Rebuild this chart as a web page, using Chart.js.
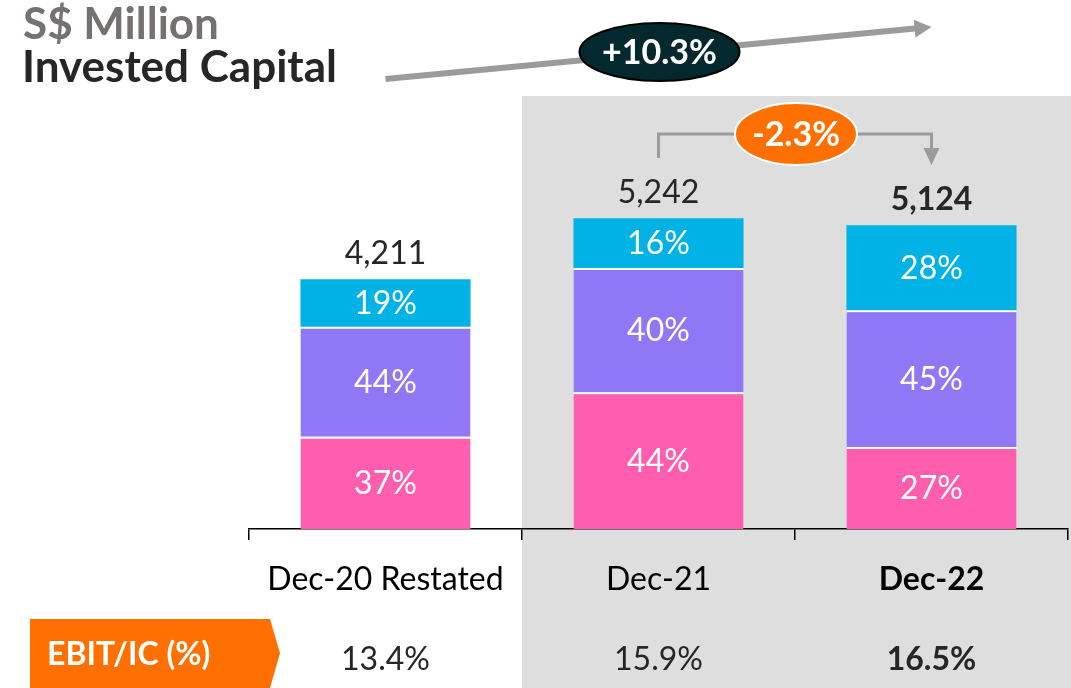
<!DOCTYPE html>
<html lang="en">
<head>
    <meta charset="UTF-8">
    <title>Invested Capital</title>
    <script src="https://cdn.jsdelivr.net/npm/chart.js@4.4.0/dist/chart.umd.min.js"></script>
    <style>
        html, body { margin: 0; padding: 0; background: #fff; }
        .chart-container { position: relative; width: 1071px; height: 688px; }
    </style>
</head>
<body>
    <div class="chart-container">
        <canvas id="icChart"></canvas>
    </div>
    <script>
        // chart data (S$ million)
        const categories = ['Dec-20 Restated', 'Dec-21', 'Dec-22'];
        const totals = [4211, 5242, 5124];
        const pinkVals = [1558, 2306, 1383];
        const purpleVals = [1853, 2097, 2306];
        const cyanVals = [800, 839, 1435];
        const pinkPct = ['37%', '44%', '27%'];
        const purplePct = ['44%', '40%', '45%'];
        const cyanPct = ['19%', '16%', '28%'];
        const ebitIc = ['13.4%', '15.9%', '16.5%'];
        const icGrowth = '+10.3%';
        const yoyChange = '-2.3%';

        const FONT = 'Lato, "Open Sans", sans-serif';
        const pctLabels = [pinkPct, purplePct, cyanPct];

        function arrowHead(ctx, x, y, angle, len, half, color) {
            ctx.save();
            ctx.translate(x, y);
            ctx.rotate(angle);
            ctx.fillStyle = color;
            ctx.beginPath();
            ctx.moveTo(0, 0);
            ctx.lineTo(-len, -half);
            ctx.lineTo(-len, half);
            ctx.closePath();
            ctx.fill();
            ctx.restore();
        }

        function ellipseLabel(ctx, cx, cy, rx, ry, fill, stroke, text) {
            ctx.save();
            ctx.beginPath();
            ctx.ellipse(cx, cy, rx, ry, 0, 0, Math.PI * 2);
            ctx.fillStyle = fill;
            ctx.fill();
            ctx.lineWidth = 2;
            ctx.strokeStyle = stroke;
            ctx.stroke();
            ctx.fillStyle = '#fff';
            ctx.font = 'bold 34px ' + FONT;
            ctx.textAlign = 'center';
            ctx.textBaseline = 'middle';
            ctx.fillText(text, cx, cy + 1);
            ctx.restore();
        }

        const decorPlugin = {
            id: 'decor',
            beforeDraw(chart) {
                const ctx = chart.ctx;
                const x = chart.scales.x;
                const left = (x.getPixelForValue(0) + x.getPixelForValue(1)) / 2;
                ctx.save();
                ctx.fillStyle = '#dedede';
                ctx.fillRect(left, 96, chart.width - left, chart.height - 96);
                ctx.restore();
            },
            afterDatasetsDraw(chart) {
                const ctx = chart.ctx;
                ctx.save();
                ctx.textAlign = 'center';
                ctx.textBaseline = 'middle';
                // segment percentages
                ctx.font = '32px ' + FONT;
                ctx.fillStyle = '#fff';
                chart.data.datasets.forEach((ds, di) => {
                    chart.getDatasetMeta(di).data.forEach((bar, i) => {
                        ctx.fillText(pctLabels[di][i], bar.x, (bar.y + bar.base) / 2 + 1);
                    });
                });
                // totals above bars
                const top = chart.getDatasetMeta(2).data;
                top.forEach((bar, i) => {
                    ctx.font = (i === 2 ? 'bold ' : '') + '32px ' + FONT;
                    ctx.fillStyle = '#262626';
                    ctx.fillText(totals[i].toLocaleString('en-US'), bar.x, bar.y - 26);
                });
                ctx.restore();
            },
            afterDraw(chart) {
                const ctx = chart.ctx;
                const x = chart.scales.x;
                const c0 = x.getPixelForValue(0), c1 = x.getPixelForValue(1), c2 = x.getPixelForValue(2);
                ctx.save();

                // title
                ctx.textAlign = 'left';
                ctx.textBaseline = 'alphabetic';
                ctx.font = 'bold 44px ' + FONT;
                ctx.fillStyle = '#767171';
                ctx.fillText('S$ Million', 23, 39);
                ctx.fillStyle = '#262626';
                ctx.fillText('Invested Capital', 22, 82);

                // long growth arrow Dec-20 -> Dec-22
                const grey = '#9b9b9b';
                const x1 = c0, y1 = 79, x2 = c2, y2 = 27;
                const ang = Math.atan2(y2 - y1, x2 - x1);
                ctx.strokeStyle = grey;
                ctx.lineWidth = 6;
                ctx.beginPath();
                ctx.moveTo(x1, y1);
                ctx.lineTo(x2 - 14 * Math.cos(ang), y2 - 14 * Math.sin(ang));
                ctx.stroke();
                arrowHead(ctx, x2, y2, ang, 17, 9, grey);
                ellipseLabel(ctx, (c0 + c2) / 2 + 1, 52, 80, 29, '#03282d', '#000', icGrowth);

                // bracket Dec-21 -> Dec-22
                ctx.strokeStyle = grey;
                ctx.lineWidth = 3;
                ctx.beginPath();
                ctx.moveTo(c1, 158);
                ctx.lineTo(c1, 134);
                ctx.lineTo(c2, 134);
                ctx.lineTo(c2, 150);
                ctx.stroke();
                arrowHead(ctx, c2, 165, Math.PI / 2, 17, 8, grey);
                ellipseLabel(ctx, (c1 + c2) / 2 + 1, 134, 61, 31, '#ff7000', '#fff', yoyChange);

                // EBIT/IC row
                ctx.fillStyle = '#ff7000';
                ctx.beginPath();
                ctx.moveTo(30, 619);
                ctx.lineTo(270, 619);
                ctx.lineTo(280, 653);
                ctx.lineTo(270, 688);
                ctx.lineTo(30, 688);
                ctx.closePath();
                ctx.fill();
                ctx.fillStyle = '#fff';
                ctx.font = 'bold 32px ' + FONT;
                ctx.textAlign = 'left';
                ctx.textBaseline = 'middle';
                ctx.fillText('EBIT/IC (%)', 47, 655);

                ctx.textAlign = 'center';
                ebitIc.forEach((v, i) => {
                    ctx.font = (i === 2 ? 'bold ' : '') + '32px ' + FONT;
                    ctx.fillStyle = '#262626';
                    ctx.fillText(v, x.getPixelForValue(i), 660);
                });
                ctx.restore();
            }
        };

        const barBorder = { top: 2, bottom: 0, left: 0, right: 0 };

        new Chart(document.getElementById('icChart'), {
            type: 'bar',
            data: {
                labels: categories,
                datasets: [
                    { label: 'Pink', data: pinkVals, backgroundColor: '#ff5eae', borderColor: '#fff', borderWidth: barBorder, borderSkipped: false },
                    { label: 'Purple', data: purpleVals, backgroundColor: '#8f77f5', borderColor: '#fff', borderWidth: barBorder, borderSkipped: false },
                    { label: 'Cyan', data: cyanVals, backgroundColor: '#00b2e6', borderWidth: 0 }
                ]
            },
            options: {
                responsive: true,
                maintainAspectRatio: false,
                animation: false,
                layout: { padding: { top: 114, left: 249, right: 3, bottom: 0 } },
                datasets: { bar: { categoryPercentage: 1, barPercentage: 0.623 } },
                scales: {
                    x: {
                        stacked: true,
                        grid: { display: true, drawOnChartArea: false, drawTicks: true, tickLength: 11, color: '#000', lineWidth: 1.5, offset: true },
                        border: { display: true, color: '#000', width: 1.5 },
                        ticks: {
                            color: '#000',
                            padding: 20,
                            maxRotation: 0,
                            font: (ctx) => ({ family: FONT, size: 32, weight: ctx.index === 2 ? 'bold' : 'normal' })
                        },
                        afterFit: (s) => { s.height = 688 - 529; }
                    },
                    y: {
                        stacked: true,
                        display: false,
                        min: 0,
                        max: 7000
                    }
                },
                plugins: {
                    legend: { display: false },
                    tooltip: { enabled: false }
                }
            },
            plugins: [decorPlugin]
        });
    </script>
</body>
</html>
